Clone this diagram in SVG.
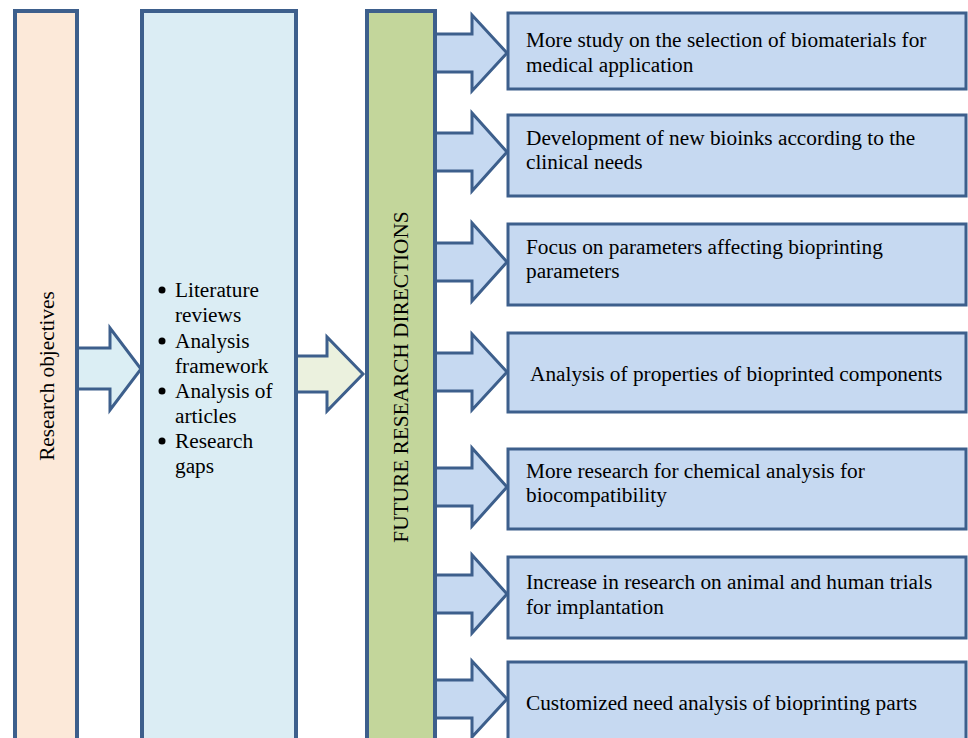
<svg xmlns="http://www.w3.org/2000/svg" width="968" height="738" viewBox="0 0 968 738">
<style>
.t{font-family:"Liberation Serif","Times New Roman",serif;font-size:21.3px;fill:#000}
.col{stroke:#3d5f8c;stroke-width:4}
.box{fill:#c6d9f1;stroke:#3d5f8c;stroke-width:3}
.arr{fill:#c6d9f1;stroke:#3d5f8c;stroke-width:3;stroke-linejoin:miter}
</style>
<g id="connectors">
<path d="M78,348 L110,348 L110,328 L141,369 L110,410 L110,389 L78,389" fill="#dbeef4" stroke="#3d5f8c" stroke-width="3"/>
<path d="M296,356 L327,356 L327,337 L363,374 L327,411 L327,392 L296,392" fill="#ebf1de" stroke="#3d5f8c" stroke-width="3"/>
<path class="arr" d="M436,34 L472,34 L472,15 L507,53 L472,91 L472,72 L436,72"/>
<path class="arr" d="M436,133 L472,133 L472,113 L507,152 L472,191 L472,171 L436,171"/>
<path class="arr" d="M436,243 L472,243 L472,223 L507,262 L472,301 L472,281 L436,281"/>
<path class="arr" d="M436,353 L472,353 L472,334 L507,372 L472,410 L472,391 L436,391"/>
<path class="arr" d="M436,468 L472,468 L472,448 L507,487 L472,526 L472,506 L436,506"/>
<path class="arr" d="M436,575 L472,575 L472,555 L507,594 L472,633 L472,613 L436,613"/>
<path class="arr" d="M436,680 L472,680 L472,661 L507,699 L472,737 L472,718 L436,718"/>
</g>
<g id="objectives">
<rect class="col" x="15" y="11" width="62" height="740" fill="#fce9d9"/>
<text class="t" transform="translate(54,376) rotate(-90)" text-anchor="middle">Research objectives</text>
</g>
<g id="methods">
<rect class="col" x="142" y="11" width="154" height="740" fill="#dbedf4"/>
<g class="t">
<circle cx="162" cy="290" r="3.5"/><text x="175" y="297">Literature</text><text x="175" y="322">reviews</text>
<circle cx="162" cy="341" r="3.5"/><text x="175" y="348">Analysis</text><text x="175" y="373">framework</text>
<circle cx="162" cy="391" r="3.5"/><text x="175" y="398">Analysis of</text><text x="175" y="423">articles</text>
<circle cx="162" cy="441" r="3.5"/><text x="175" y="448">Research</text><text x="175" y="473">gaps</text>
</g>
</g>
<g id="future">
<rect class="col" x="367" y="11" width="68" height="740" fill="#c3d69b"/>
<text class="t" transform="translate(408,377) rotate(-90)" text-anchor="middle">FUTURE RESEARCH DIRECTIONS</text>
</g>
<g id="d1"><rect class="box" x="508" y="13" width="458" height="76"/><text class="t" x="526" y="47">More study on the selection of biomaterials for</text><text class="t" x="526" y="72">medical application</text></g>
<g id="d2"><rect class="box" x="508" y="115" width="458" height="81"/><text class="t" x="526" y="145">Development of new bioinks according to the</text><text class="t" x="526" y="169">clinical needs</text></g>
<g id="d3"><rect class="box" x="508" y="224" width="458" height="81"/><text class="t" x="526" y="254">Focus on parameters affecting bioprinting</text><text class="t" x="526" y="278">parameters</text></g>
<g id="d4"><rect class="box" x="508" y="333" width="458" height="79"/><text class="t" x="530" y="381">Analysis of properties of bioprinted components</text></g>
<g id="d5"><rect class="box" x="508" y="449" width="458" height="80"/><text class="t" x="526" y="478">More research for chemical analysis for</text><text class="t" x="526" y="502">biocompatibility</text></g>
<g id="d6"><rect class="box" x="508" y="557" width="458" height="81"/><text class="t" x="526" y="589">Increase in research on animal and human trials</text><text class="t" x="526" y="614">for implantation</text></g>
<g id="d7"><rect class="box" x="508" y="662" width="458" height="90"/><text class="t" x="526" y="710">Customized need analysis of bioprinting parts</text></g>
</svg>
